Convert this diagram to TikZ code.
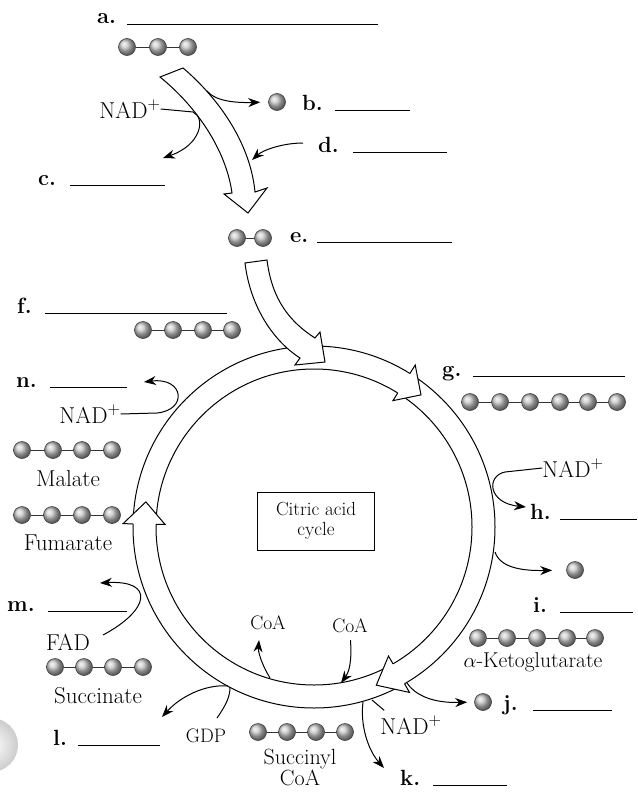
\documentclass[tikz,border=0pt]{standalone}
\usepackage{fontspec}
\usetikzlibrary{arrows.meta}

\tikzset{
  ball/.style={circle, draw=black!75, line width=0.6pt, shade, ball color=gray!45,
               minimum size=17pt, inner sep=0pt},
  bond/.style={line width=0.9pt, black!80},
  lbl/.style={font=\fontsize{22}{26}\selectfont\bfseries, inner sep=0pt, anchor=base west},
  txt/.style={font=\fontsize{23}{26}\selectfont, inner sep=0pt},
  smalltxt/.style={font=\fontsize{19.5}{22}\selectfont, inner sep=0pt},
  blank/.style={line width=0.9pt},
  ringline/.style={line width=1pt},
  hollow/.style={draw, fill=white, line width=1pt, line join=miter},
  link/.style={line width=1pt},
  react/.style={line width=1pt, -{Stealth[length=12pt, width=9pt]}}
}

\begin{document}
\begin{tikzpicture}[x=1pt, y=-1pt]

\useasboundingbox (0,0) rectangle (637,792);

% shadow of the punched hole
\shade[inner color=white, outer color=gray!40] (-9,745) circle[radius=27];

% the cycle band
\coordinate (cc) at (314,527);
\draw[ringline] (cc) circle[radius=181];
\draw[ringline] (cc) circle[radius=158];

\begin{scope}[shift={(cc)}]
\foreach \b/\t in {-58/-51, 60/68.5, 181/188.5}
    \filldraw[hollow] (\b:181) -- (\b:191) -- (\t:170) -- (\b:149) -- (\b:158);
\end{scope}

% acetyl group entering the cycle
\filldraw[hollow] (245,263) -- (267,260) .. controls (272,300) and (290,322) .. (315,338)
    -- (320,332) -- (325,362) -- (295,365) -- (300,358)
    .. controls (272,340) and (250,305) .. (245,263) -- cycle;

% pyruvate to acetyl
\filldraw[hollow] (160,77) -- (183,68) .. controls (215,95) and (250,140) .. (255,192)
    -- (267,188) -- (248,213) -- (224,194) -- (232,193)
    .. controls (226,150) and (197,107) .. (160,77) -- cycle;

\node[draw, line width=0.8pt, minimum width=117pt, minimum height=58pt, align=center,
      font=\fontsize{19}{20}\selectfont] (cac) at (316,521) {Citric acid\\cycle};

% carbon chains
\foreach \nm/\y/\xs in {pyr/47/{127,158,188}, bb/102/{277}, acc/238/{237,263},
                        oaa/330/{143,173,203,232}, cit/402/{470,500,530,560,588,617},
                        mal/450/{22,53,82,112}, fum/515/{22,52,82,112},
                        bi/570/{575}, akg/638/{478,507,537,567,595},
                        suc/667/{55,84,113,143}, bj/702/{483},
                        scoa/732/{258,287,316,345}}
{
    \foreach \bx [count=\bk] in \xs {
        \node[ball] (\nm\bk) at (\bx,\y) {};
        \ifnum\bk>1
            \pgfmathtruncatemacro\bp{\bk-1}
            \draw[bond] (\nm\bp) -- (\nm\bk);
        \fi
    }
}

% answer blanks
\foreach \n/\x/\y/\u/\v in {a/97/24/127/378, b/302/110/335/410, c/38/185/70/165,
                            d/318/152/353/447, e/290/242/317/452, f/17/313/45/227,
                            g/442/376/473/625, h/530/519/560/637, i/533/612/560/633,
                            j/503/710/533/612, k/400/785/433/507, l/53/745/78/160,
                            m/7/611/48/127, n/16/387/50/127}
{
    \node[lbl] (l\n) at (\x,\y) {\n.};
    \draw[blank] (\u,\y) -- (\v,\y);
}

% names
\node[txt] (nad1) at (130,109) {NAD$^{+}$};
\node[txt] (nad2) at (90,414) {NAD$^{+}$};
\node[txt] (nad3) at (573,468) {NAD$^{+}$};
\node[txt] (nad4) at (411,725) {NAD$^{+}$};
\node[txt] (malate) at (68,479) {Malate};
\node[txt] (fumarate) at (68,543) {Fumarate};
\node[txt] (fad) at (68,642) {FAD};
\node[txt] (succinate) at (98,696) {Succinate};
\node[smalltxt] (gdp) at (206,736) {GDP};
\node[txt, align=center, font=\fontsize{22}{20}\selectfont] (succoa) at (300,767) {Succinyl\\CoA};
\node[smalltxt] (coa1) at (268,623) {CoA};
\node[smalltxt] (coa2) at (350,626) {CoA};
\node[txt, font=\fontsize{21.5}{24}\selectfont] (akgname) at (533,662) {$\alpha$-Ketoglutarate};

% side reactions
\coordinate (bsrc) at (207,91);
\coordinate (cend) at (163,158);
\coordinate (dsrc) at (303,143);
\coordinate (dend) at (252,160);
\coordinate (nend) at (144,382);
\coordinate (hend) at (526,507);
\coordinate (isrc) at (495,552);
\coordinate (jsrc) at (407,683);
\coordinate (ksrc) at (363,702);
\coordinate (kend) at (384,768);
\coordinate (nad4in) at (372,700);
\coordinate (coa1src) at (270,678);
\coordinate (coa1end) at (259,640);
\coordinate (coa2end) at (341,683);
\coordinate (gdpsrc) at (217,718);
\coordinate (gdpin) at (230,687);
\coordinate (lsrc) at (228,686);
\coordinate (lend) at (162,717);
\coordinate (msrc) at (103,635);
\coordinate (mend) at (100,583);

\draw[react, shorten >=8pt] (bsrc) .. controls (215,101) and (235,103) .. (bb1.west);
\draw[react] (nad1.east) -- (193,112) .. controls (206,118) and (201,145) .. (cend);
\draw[react] (dsrc) .. controls (283,143) and (263,150) .. (dend);
\draw[react] (nad2.east) -- (157,413) .. controls (188,410) and (184,377) .. (nend);
\draw[react] (nad3.west) -- (505,472) .. controls (486,476) and (488,503) .. (hend);
\draw[react, shorten >=14pt] (isrc) .. controls (500,567) and (520,571) .. (bi1.west);
\draw[react, shorten >=7pt] (jsrc) .. controls (418,699) and (440,703) .. (bj1.west);
\draw[react] (ksrc) .. controls (360,725) and (368,750) .. (kend);
\draw[link] ([shift={(4,-5)}]nad4.north west) -- (nad4in);
\draw[react] (coa1src) .. controls (262,665) and (258,652) .. (coa1end);
\draw[react, shorten <=7pt] (coa2.south) .. controls (352,662) and (349,672) .. (coa2end);
\draw[link] (gdpsrc) .. controls (226,705) and (230,697) .. (gdpin);
\draw[react] (lsrc) .. controls (205,684) and (180,697) .. (lend);
\draw[react] (msrc) .. controls (150,610) and (155,580) .. (mend);

\end{tikzpicture}
\end{document}
